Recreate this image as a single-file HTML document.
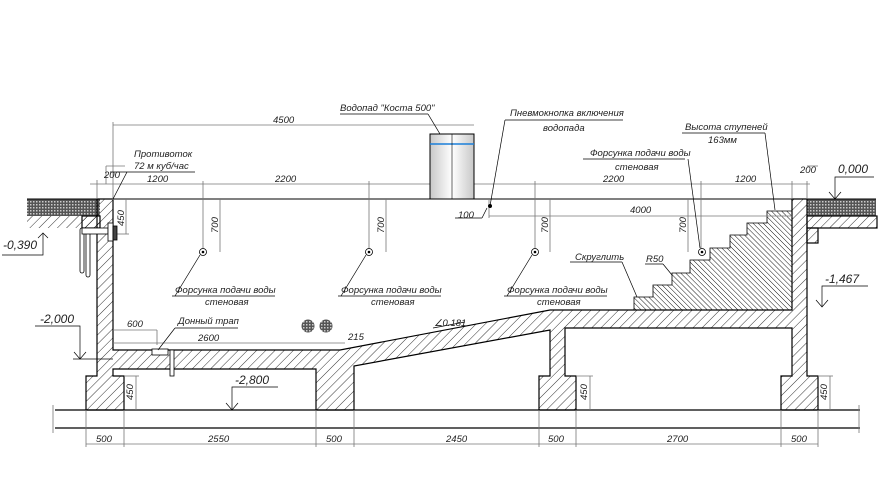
<!DOCTYPE html>
<html><head><meta charset="utf-8"><style>
html,body{margin:0;padding:0;background:#fff;}
svg{display:block;}
text{font-family:"Liberation Sans",sans-serif;font-style:italic;font-size:9.5px;fill:#222;}
</style></head><body>
<svg width="890" height="478" viewBox="0 0 890 478" xmlns="http://www.w3.org/2000/svg">
<defs>
<pattern id="h1" patternUnits="userSpaceOnUse" width="6.5" height="6.5" patternTransform="rotate(45)">
<line x1="0" y1="0" x2="0" y2="6.5" stroke="#000" stroke-width="0.8"/></pattern>
<pattern id="h2" patternUnits="userSpaceOnUse" width="3.6" height="3.6" patternTransform="rotate(-45)">
<line x1="0" y1="0" x2="0" y2="3.6" stroke="#000" stroke-width="0.9"/></pattern>
<pattern id="cx" patternUnits="userSpaceOnUse" width="3" height="3">
<rect width="3" height="3" fill="#555"/><rect width="1.5" height="1.5" fill="#ccc"/></pattern>
<linearGradient id="g" x1="0" x2="1"><stop offset="0" stop-color="#c8c8c8"/><stop offset="0.5" stop-color="#fff"/><stop offset="1" stop-color="#c8c8c8"/></linearGradient>
</defs>
<g stroke="#000" stroke-width="1.2" fill="url(#h1)">
<rect x="27" y="199" width="73" height="17" fill="url(#cx)" stroke="none"/>
<rect x="82" y="216" width="18" height="12" stroke="#000"/>
<rect x="27" y="216" width="73" height="12" stroke="none"/>
<rect x="807" y="199" width="69" height="17" fill="url(#cx)" stroke="none"/>
<rect x="807" y="216" width="70" height="12"/>
<rect x="807" y="228" width="11" height="15"/>
<polygon points="97,199 113,199 113,350 340,350 550,310 792,310 792,199 807,199 807,376 818,376 818,410 781,410 781,376 792,376 792,328 565,328 565,376 576,376 576,410 539,410 539,376 550,376 550,330 354,366 354,410 316,410 316,369 113,369 113,376 124,376 124,410 86,410 86,376 97,376"/>
<polygon fill="url(#h2)" stroke-width="0.8" points="634,310 634,297 653,297 653,285 672,285 672,273 690,273 690,260 710,260 710,248 730,248 730,235 747,235 747,223 767,223 767,211 792,211 792,310"/>
</g>
<g stroke="#000" stroke-width="1.2">
<line x1="55" y1="410" x2="860" y2="410"/><line x1="55" y1="428" x2="860" y2="428"/>
<line x1="27" y1="199" x2="876" y2="199" stroke-width="1"/>
</g>
<g stroke="#777" stroke-width="0.8" fill="none">
<line x1="53" y1="405" x2="53" y2="433"/><line x1="859" y1="405" x2="859" y2="433"/>
<line x1="86" y1="444" x2="818" y2="444"/>
<line x1="86" y1="410" x2="86" y2="447"/><line x1="124" y1="410" x2="124" y2="447"/>
<line x1="316" y1="410" x2="316" y2="447"/><line x1="354" y1="410" x2="354" y2="447"/>
<line x1="539" y1="410" x2="539" y2="447"/><line x1="576" y1="410" x2="576" y2="447"/>
<line x1="781" y1="410" x2="781" y2="447"/><line x1="818" y1="410" x2="818" y2="447"/>
<line x1="136" y1="376" x2="136" y2="410"/><line x1="124" y1="376" x2="139" y2="376"/>
<line x1="590" y1="376" x2="590" y2="410"/><line x1="576" y1="376" x2="593" y2="376"/>
<line x1="830" y1="376" x2="830" y2="410"/><line x1="818" y1="376" x2="833" y2="376"/>
<line x1="126" y1="199" x2="126" y2="234"/><line x1="113" y1="234" x2="129" y2="234"/>
<line x1="113" y1="125" x2="474" y2="125"/><line x1="113" y1="122" x2="113" y2="200"/>
<line x1="90" y1="184" x2="430" y2="184"/><line x1="474" y1="184" x2="810" y2="184"/>
<line x1="97" y1="180" x2="97" y2="199"/><line x1="203" y1="181" x2="203" y2="251"/>
<line x1="369" y1="181" x2="369" y2="251"/><line x1="535" y1="181" x2="535" y2="251"/>
<line x1="701" y1="181" x2="701" y2="251"/><line x1="792" y1="181" x2="792" y2="199"/><line x1="807" y1="181" x2="807" y2="199"/>
<line x1="106" y1="166" x2="106" y2="184"/><line x1="106" y1="166" x2="125" y2="166"/>
<line x1="807" y1="166" x2="818" y2="166"/>
<line x1="220" y1="199" x2="220" y2="252"/><line x1="386" y1="199" x2="386" y2="252"/>
<line x1="550" y1="199" x2="550" y2="252"/><line x1="688" y1="199" x2="688" y2="252"/>
<line x1="489" y1="216" x2="793" y2="216"/><line x1="489" y1="200" x2="489" y2="218"/>
<line x1="113" y1="343" x2="345" y2="343"/><line x1="113" y1="330" x2="157" y2="330"/><line x1="157" y1="330" x2="157" y2="345"/>
</g>
<rect x="430" y="134" width="44" height="65" fill="url(#g)" stroke="#000" stroke-width="1"/>
<line x1="430" y1="144" x2="474" y2="144" stroke="#1a7fd9" stroke-width="1.5"/>
<line x1="452" y1="134" x2="452" y2="199" stroke="#000" stroke-width="0.6"/>
<g fill="#fff" stroke="#000" stroke-width="0.8">
<circle cx="203" cy="252" r="3.5"/><circle cx="369" cy="252" r="3.5"/><circle cx="535" cy="252" r="3.5"/><circle cx="702" cy="252" r="3.5"/>
</g>
<g fill="#000"><circle cx="203" cy="252" r="1.3"/><circle cx="369" cy="252" r="1.3"/><circle cx="535" cy="252" r="1.3"/><circle cx="702" cy="252" r="1.3"/><circle cx="490" cy="206" r="2"/></g>
<circle cx="308" cy="326" r="6.5" fill="url(#cx)"/><circle cx="326" cy="326" r="6.5" fill="url(#cx)"/>
<g stroke="#000" stroke-width="0.8" fill="#fff">
<rect x="80" y="228" width="4" height="45" rx="2"/><rect x="86" y="232" width="4" height="45" rx="2"/>
<rect x="82" y="228" width="26" height="6"/><rect x="108" y="223" width="5" height="18"/><rect x="113" y="226" width="4" height="14" fill="#444"/>
<rect x="152" y="349" width="16" height="6"/><rect x="170" y="350" width="4" height="26"/>
</g>
<g stroke="#000" stroke-width="0.7" fill="none">
<line x1="340" y1="114" x2="428" y2="114"/><line x1="428" y1="114" x2="440" y2="134"/>
<line x1="110" y1="172" x2="195" y2="172"/><line x1="127" y1="172" x2="113" y2="199"/>
<line x1="505" y1="120" x2="623" y2="120"/><line x1="505" y1="120" x2="490" y2="206"/>
<line x1="455" y1="218" x2="482" y2="218"/><line x1="482" y1="218" x2="487" y2="208"/>
<line x1="682" y1="133" x2="765" y2="133"/><line x1="765" y1="133" x2="775" y2="210"/>
<line x1="583" y1="159" x2="685" y2="159"/><line x1="688" y1="159" x2="700" y2="248"/>
<line x1="172" y1="296" x2="275" y2="296"/><line x1="175" y1="296" x2="200" y2="255"/>
<line x1="338" y1="296" x2="441" y2="296"/><line x1="341" y1="296" x2="366" y2="255"/>
<line x1="504" y1="296" x2="607" y2="296"/><line x1="507" y1="296" x2="532" y2="255"/>
<line x1="570" y1="262" x2="622" y2="262"/><line x1="622" y1="262" x2="637" y2="297"/>
<line x1="645" y1="264" x2="663" y2="264"/><line x1="663" y1="264" x2="672" y2="275"/>
<line x1="175" y1="328" x2="238" y2="328"/><line x1="175" y1="328" x2="158" y2="350"/>
<polyline points="2,255 43,255 43,233"/><polyline points="38,238 43,233 48,238"/>
<polyline points="35,326 80,326 80,359"/><polyline points="74,352 80,359 86,352"/><line x1="73" y1="359" x2="113" y2="359"/>
<polyline points="868,286 822,286 822,307"/><polyline points="816,300 822,307 828,300"/>
<polyline points="278,387 232,387 232,410"/><polyline points="226,403 232,410 238,403"/>
<polyline points="874,177 835,177 835,199"/><polyline points="829,192 835,199 841,192"/>
<line x1="433" y1="328" x2="465" y2="322"/>
</g>
<text x="340" y="111">Водопад "Коста 500"</text>
<text x="273" y="123">4500</text>
<text x="134" y="157">Противоток</text>
<text x="134" y="169">72 м куб/час</text>
<text x="104" y="178">200</text>
<text x="147" y="182">1200</text>
<text x="275" y="182">2200</text>
<text x="603" y="182">2200</text>
<text x="735" y="182">1200</text>
<text x="800" y="173">200</text>
<text x="838" y="173" style="font-size:12px">0,000</text>
<text x="510" y="116">Пневмокнопка включения</text>
<text x="543" y="131">водопада</text>
<text x="685" y="130">Высота ступеней</text>
<text x="708" y="143">163мм</text>
<text x="590" y="156">Форсунка подачи воды</text>
<text x="615" y="170">стеновая</text>
<text x="458" y="218">100</text>
<text x="630" y="213">4000</text>
<text x="3" y="249" style="font-size:12px">-0,390</text>
<text x="40" y="323" style="font-size:12px">-2,000</text>
<text x="825" y="283" style="font-size:12px">-1,467</text>
<text x="235" y="384" style="font-size:12px">-2,800</text>
<text x="575" y="260">Скруглить</text>
<text x="646" y="262">R50</text>
<text x="175" y="293">Форсунка подачи воды</text><text x="205" y="305">стеновая</text>
<text x="341" y="293">Форсунка подачи воды</text><text x="371" y="305">стеновая</text>
<text x="507" y="293">Форсунка подачи воды</text><text x="537" y="305">стеновая</text>
<text x="434" y="326">∠0.181</text>
<text x="127" y="327">600</text>
<text x="178" y="324">Донный трап</text>
<text x="198" y="341">2600</text>
<text x="348" y="340">215</text>
<text x="96" y="442">500</text>
<text x="208" y="442">2550</text>
<text x="326" y="442">500</text>
<text x="446" y="442">2450</text>
<text x="548" y="442">500</text>
<text x="667" y="442">2700</text>
<text x="791" y="442">500</text>
<g>
<text transform="translate(133,400) rotate(-90)">450</text>
<text transform="translate(587,400) rotate(-90)">450</text>
<text transform="translate(827,400) rotate(-90)">450</text>
<text transform="translate(124,226) rotate(-90)">450</text>
<text transform="translate(218,233) rotate(-90)">700</text>
<text transform="translate(384,233) rotate(-90)">700</text>
<text transform="translate(548,233) rotate(-90)">700</text>
<text transform="translate(686,233) rotate(-90)">700</text>
</g>
</svg>
</body></html>
